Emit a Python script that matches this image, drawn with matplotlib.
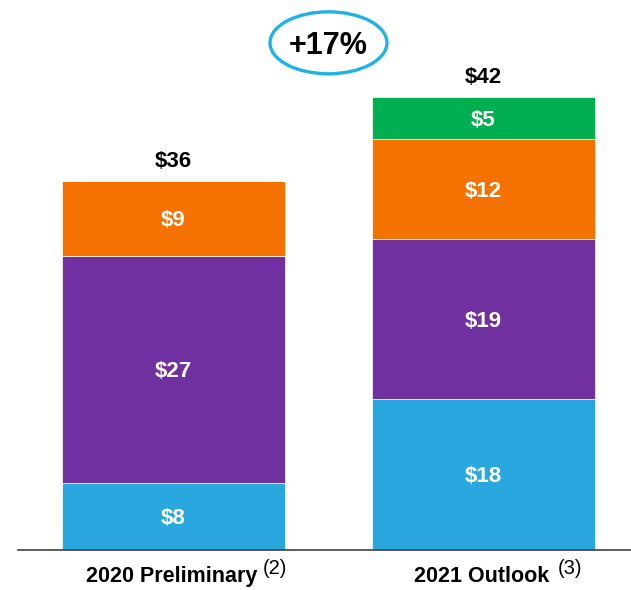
import matplotlib.pyplot as plt
from matplotlib.patches import Ellipse

# --- Data ---
categories = ['2020 Preliminary', '2021 Outlook']
footnotes = ['(2)', '(3)']
blue_vals = [8, 18]
purple_vals = [27, 19]
orange_vals = [9, 12]
green_vals = [0, 5]
total_labels = ['$36', '$42']
growth_label = '+17%'

colors = {'blue': '#29A8E0', 'purple': '#7030A0', 'orange': '#F57200', 'green': '#00B050'}

plt.rcParams['font.family'] = ['Liberation Sans', 'DejaVu Sans']

fig = plt.figure(figsize=(6.31, 5.90), dpi=100)
ax = fig.add_axes([18 / 631, 40 / 590, 613 / 631, 550 / 590])

x = [0, 1]
width = 0.72
bottom = [0, 0]
for vals, key in [(blue_vals, 'blue'), (purple_vals, 'purple'),
                  (orange_vals, 'orange'), (green_vals, 'green')]:
    ax.bar(x, vals, width=width, bottom=bottom, color=colors[key], edgecolor='white', linewidth=0.5)
    for xi, v, b in zip(x, vals, bottom):
        if v > 0:
            ax.text(xi, b + v / 2, f'${v}', ha='center', va='center_baseline',
                    color='white', fontsize=16, fontweight='bold')
    bottom = [b + v for b, v in zip(bottom, vals)]

# totals above bars
for xi, top, lab in zip(x, bottom, total_labels):
    ax.text(xi, top + 2.6, lab, ha='center', va='center_baseline', fontsize=16, fontweight='bold')

# category labels with footnote markers
tr = ax.get_xaxis_transform()
sup_dx = [89, 74]
for xi, cat, fn, dx in zip(x, categories, footnotes, sup_dx):
    ax.annotate(cat, xy=(xi, 0), xycoords=tr, xytext=(-1, -32 * 0.72), textcoords='offset points',
                ha='center', va='baseline', fontsize=15.5, fontweight='bold')
    ax.annotate(fn, xy=(xi, 0), xycoords=tr, xytext=(dx * 0.72, -24 * 0.72), textcoords='offset points',
                ha='left', va='baseline', fontsize=14.5)

# growth bubble
ax.text(0.5, 60.4, growth_label, ha='center', va='center_baseline', fontsize=22, fontweight='bold')
ax.add_patch(Ellipse((0.5, 60.4), 117 / 310, 62 / 8.4, fill=False,
                     edgecolor='#1FB3E5', linewidth=2.4, clip_on=False))

ax.set_xlim(-0.5016, 1.476)
ax.set_ylim(0, 65.5)
for s in ['top', 'right', 'left']:
    ax.spines[s].set_visible(False)
ax.spines['bottom'].set_color('#404040')
ax.spines['bottom'].set_linewidth(1.2)
ax.set_xticks([])
ax.set_yticks([])

fig.savefig('out.png', dpi=100)
